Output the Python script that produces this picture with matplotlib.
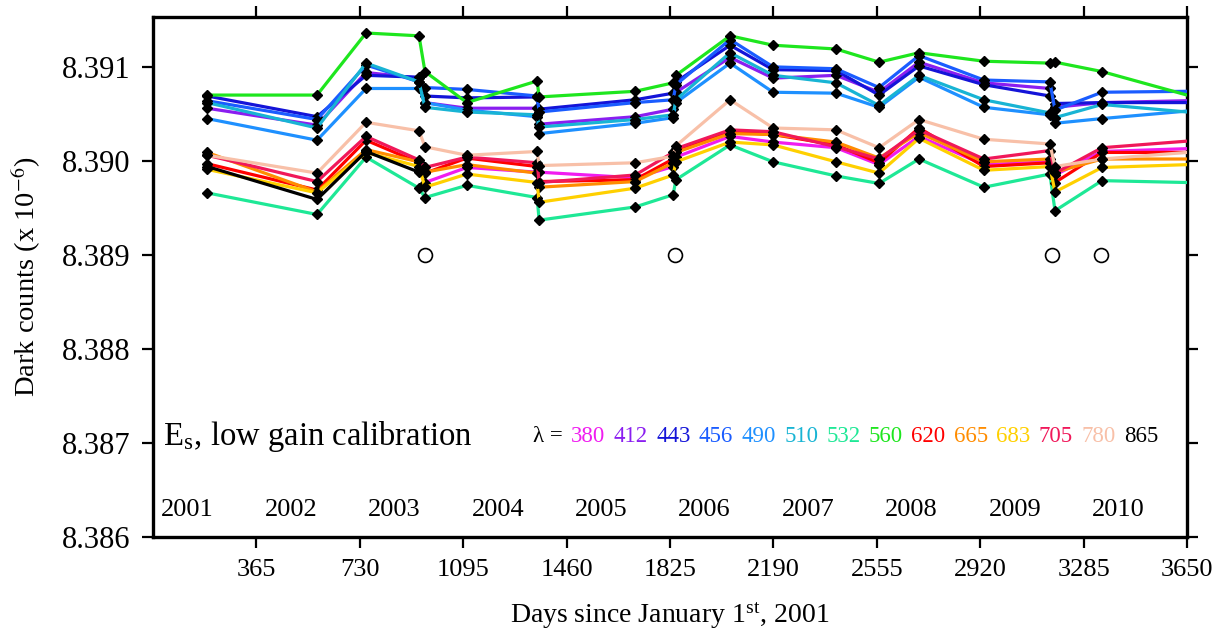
import numpy as np
import matplotlib
matplotlib.use("Agg")
import matplotlib.pyplot as plt
from matplotlib.offsetbox import TextArea, HPacker, AnchoredOffsetbox

serif = ["Liberation Serif", "DejaVu Serif"]
plt.rcParams["font.family"] = serif
plt.rcParams["mathtext.fontset"] = "stix"

# days since Jan 1st 2001 of each calibration
days = [191, 579, 752, 939, 960, 1108, 1356, 1363, 1702, 1836, 1846,
        2037, 2189, 2411, 2563, 2704, 2933, 3166, 3184, 3350, 3650]

# dark counts (x 1e-6) per wavelength
dc380 = [8.38977, 8.38993, 8.38988, 8.38988, 8.38982, 8.38994, 8.39004, 8.39026, 8.39020,
         8.39014, 8.38996, 8.39026, 8.38996, 8.38999, 8.38985, 8.39010, 8.39013]
dc412 = [8.39056, 8.39038, 8.39094, 8.39088, 8.39062, 8.39056, 8.39056, 8.39039, 8.39047, 8.39055, 8.39073,
         8.39110, 8.39088, 8.39091, 8.39073, 8.39105, 8.39083, 8.39077, 8.39057, 8.39062, 8.39064]
dc443 = [8.39069, 8.39047, 8.39091, 8.39089, 8.39069, 8.39067, 8.39068, 8.39055, 8.39065, 8.39072, 8.39084,
         8.39123, 8.39097, 8.39096, 8.39070, 8.39101, 8.39081, 8.39069, 8.39061, 8.39062, 8.39062]
dc456 = [8.39064, 8.39044, 8.39102, 8.39084, 8.39078, 8.39076, 8.39069, 8.39052, 8.39062, 8.39065, 8.39081,
         8.39129, 8.39100, 8.39098, 8.39078, 8.39112, 8.39086, 8.39084, 8.39054, 8.39073, 8.39074]
dc490 = [8.39045, 8.39022, 8.39077, 8.39077, 8.39062, 8.39054, 8.39047, 8.39029, 8.39040, 8.39046, 8.39062,
         8.39104, 8.39073, 8.39072, 8.39057, 8.39089, 8.39057, 8.39049, 8.39040, 8.39045, 8.39053]
dc510 = [8.39062, 8.39035, 8.39104, 8.39084, 8.39057, 8.39052, 8.39049, 8.39036, 8.39044, 8.39049, 8.39065,
         8.39115, 8.39091, 8.39083, 8.39059, 8.39091, 8.39065, 8.39051, 8.39046, 8.39060, 8.39052]
dc532 = [8.38966, 8.38943, 8.39004, 8.38971, 8.38961, 8.38974, 8.38961, 8.38937, 8.38951, 8.38964, 8.38980,
         8.39017, 8.38999, 8.38984, 8.38976, 8.39002, 8.38972, 8.38986, 8.38947, 8.38979, 8.38977]
dc560 = [8.39070, 8.39070, 8.39136, 8.39133, 8.39095, 8.39062, 8.39085, 8.39068, 8.39074, 8.39083, 8.39091,
         8.39133, 8.39123, 8.39119, 8.39105, 8.39115, 8.39106, 8.39104, 8.39105, 8.39095, 8.39070]
dc620 = [8.38997, 8.38969, 8.39022, 8.38998, 8.38987, 8.39003, 8.38994, 8.38978, 8.38980, 8.39002, 8.39010,
         8.39031, 8.39028, 8.39017, 8.38998, 8.39035, 8.38994, 8.38998, 8.38977, 8.39009, 8.39009]
dc665 = [8.39009, 8.38967, 8.39012, 8.38999, 8.38988, 8.38996, 8.38987, 8.38972, 8.38978, 8.38998, 8.39009,
         8.39029, 8.39028, 8.39020, 8.39003, 8.39030, 8.38999, 8.39002, 8.38988, 8.39002, 8.39002]
dc683 = [8.38991, 8.38966, 8.39009, 8.38994, 8.38972, 8.38986, 8.38977, 8.38956, 8.38971, 8.38985, 8.38999,
         8.39020, 8.39017, 8.38999, 8.38987, 8.39024, 8.38990, 8.38994, 8.38967, 8.38993, 8.38996]
dc705 = [8.39006, 8.38978, 8.39026, 8.39001, 8.38993, 8.39004, 8.38998, 8.38977, 8.38985, 8.39009, 8.39013,
         8.39033, 8.39031, 8.39015, 8.39002, 8.39033, 8.39002, 8.39011, 8.38987, 8.39014, 8.39021]
dc780 = [8.39006, 8.38987, 8.39041, 8.39032, 8.39015, 8.39006, 8.39010, 8.38995, 8.38998, 8.39005, 8.39016,
         8.39065, 8.39035, 8.39033, 8.39014, 8.39044, 8.39023, 8.39018, 8.38994, 8.39002, 8.39009]
dc865 = [8.38994, 8.38959, 8.39010, 8.38988]

# flagged calibrations (open circles)
flag_days = [960, 1843, 3173, 3346]
flag_val = 8.389

wavelengths = ["380", "412", "443", "456", "490", "510", "532",
               "560", "620", "665", "683", "705", "780", "865"]
colors = ["#f01cf0", "#8a1ef0", "#1414d8", "#1a5cff", "#1e90ff", "#18b4d4", "#1ee896",
          "#1ee61e", "#ff0000", "#ff8c00", "#ffd000", "#f0185a", "#f8c0a8", "black"]
years = ["2001", "2002", "2003", "2004", "2005", "2006", "2007", "2008", "2009", "2010"]

series = [(days[4:], dc380), (days, dc412), (days, dc443), (days, dc456), (days, dc490),
          (days, dc510), (days, dc532), (days, dc560), (days, dc620), (days, dc665),
          (days, dc683), (days, dc705), (days, dc780), (days[:4], dc865)]

fig = plt.figure(figsize=(12.27, 6.35), dpi=100)
ax = fig.add_axes([0.1247, 0.1543, 0.8427, 0.8189])

for (x, y), c in zip(series, colors):
    # no marker on the last point at the frame edge
    mk = [i for i in range(len(x)) if x[i] < 3650]
    ax.plot(x, y, color=c, lw=2.3, marker="D", ms=5.2, mfc="black", mec="black",
            markevery=mk, zorder=3)

ax.plot(flag_days, [flag_val] * len(flag_days), "o", ms=10, mfc="white",
        mec="black", mew=1.2, zorder=4)

ax.set_xlim(0, 3650)
ax.set_ylim(8.386, 8.39153)
ax.set_xticks(np.arange(365, 3651, 365))
ax.set_yticks([8.386, 8.387, 8.388, 8.389, 8.390, 8.391])
ax.set_yticklabels(["8.386", "8.387", "8.388", "8.389", "8.390", "8.391"])
ax.tick_params(axis="both", direction="out", length=8, width=1.6,
               top=True, right=True, pad=8)
ax.tick_params(axis="x", labelsize=19)
ax.tick_params(axis="y", labelsize=22)
for s in ax.spines.values():
    s.set_linewidth(2.4)

# year labels inside the frame
for i, yr in enumerate(years):
    ax.text(365 * i + 122, 8.38629, yr, ha="center", va="center", fontsize=19)

ax.text(35, 8.38707, r"E$_\mathregular{s}$, low gain calibration",
        ha="left", va="center", fontsize=23.5)

# coloured wavelength key
boxes = [TextArea("\u03bb =", textprops=dict(color="black", fontsize=16.5, family=serif))]
for w, c in zip(wavelengths, colors):
    boxes.append(TextArea(w, textprops=dict(color=c, fontsize=16.5, family=serif)))
pack = HPacker(children=boxes, align="center", pad=0, sep=6)
key = AnchoredOffsetbox(loc="center left", child=pack, pad=0, borderpad=0,
                        frameon=False, bbox_to_anchor=(0.3675, 0.194),
                        bbox_transform=ax.transAxes)
ax.add_artist(key)

ax.set_ylabel(r"Dark counts (x 10$^{-6}$)", fontsize=20.5, labelpad=14)
ax.set_xlabel(r"Days since January 1$^\mathregular{st}$, 2001", fontsize=20, labelpad=14)

fig.savefig("out.png", dpi=100)
